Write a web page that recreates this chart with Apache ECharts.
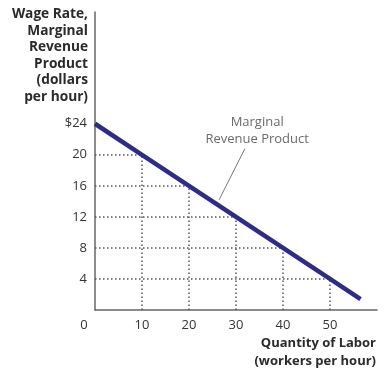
<!DOCTYPE html>
<html><head><meta charset="utf-8">
<script src="https://cdn.jsdelivr.net/npm/echarts@6/dist/echarts.min.js"></script>
<style>html,body{margin:0;padding:0;background:#fff}#c{width:392px;height:383px}</style>
</head><body><div id="c"></div>
<script>
// Data
const quantities = [0, 10, 20, 30, 40, 50, 56.5];
const mrp = [24, 20, 16, 12, 8, 4, 1.4];
const gridQuantities = [10, 20, 30, 40, 50];
const gridWages = [20, 16, 12, 8, 4];
const yTickLabels = [4, 8, 12, 16, 20, 24];
const xTickLabels = [0, 10, 20, 30, 40, 50];
const leader = [[31.9, 20.8], [26.4, 14.2]];
const labelPos = [34.5, 23.1];

const chart = echarts.init(document.getElementById('c'));
const dotted = {color: '#555', type: [1.5, 2.5], width: 1.5};
const guides = [];
gridQuantities.forEach((q, i) => {
  guides.push([{coord: [0, gridWages[i]]}, {coord: [q, gridWages[i]]}]);
  guides.push([{coord: [q, 0]}, {coord: [q, gridWages[i]]}]);
});
const font = '"Open Sans", "Noto Sans", sans-serif';
chart.setOption({
  animation: false,
  textStyle: {fontFamily: font},
  grid: {left: 95, right: 15, top: 12, bottom: 73},
  xAxis: {
    type: 'value', min: 0, max: 60, interval: 10,
    axisLine: {lineStyle: {color: '#666', width: 1.5}},
    axisTick: {show: false}, splitLine: {show: false},
    axisLabel: {
      margin: 9, color: '#333', fontSize: 13, fontFamily: font,
      formatter: v => v === 0 ? '{z|0}' : (xTickLabels.includes(v) ? String(v) : ''),
      rich: {z: {padding: [0, 22, 0, 0], fontSize: 13, color: '#333', fontFamily: font}}
    }
  },
  yAxis: {
    type: 'value', min: 0, max: 38.4, interval: 4,
    axisLine: {show: true, lineStyle: {color: '#666', width: 1.5}},
    axisTick: {show: false}, splitLine: {show: false},
    axisLabel: {
      margin: 8, color: '#333', fontSize: 13, fontFamily: font,
      formatter: v => yTickLabels.includes(v) ? (v === 24 ? '$24' : String(v)) : ''
    }
  },
  graphic: [
    {type: 'text', x: 88, y: 6, style: {
      text: 'Wage Rate,\nMarginal\nRevenue\nProduct\n(dollars\nper hour)',
      align: 'right', verticalAlign: 'top', fontSize: 13.7, fontWeight: 'bold', lineHeight: 16.5, fill: '#2a2a2a', fontFamily: font}},
    {type: 'text', x: 376, y: 334, style: {
      text: 'Quantity of Labor\n(workers per hour)',
      align: 'right', verticalAlign: 'top', fontSize: 13, fontWeight: 'bold', lineHeight: 18, fill: '#2a2a2a', fontFamily: font}}
  ],
  series: [
    {
      type: 'line', data: quantities.map((q, i) => [q, mrp[i]]),
      symbol: 'none', lineStyle: {color: '#2e2c85', width: 4.5}, z: 5,
      markLine: {silent: true, symbol: 'none', label: {show: false}, lineStyle: dotted, data: guides}
    },
    {
      type: 'line', data: leader, symbol: 'none', lineStyle: {color: '#777', width: 1}, z: 4
    },
    {
      type: 'scatter', data: [labelPos], symbolSize: 0,
      label: {show: true, position: 'inside', formatter: 'Marginal\nRevenue Product',
        fontSize: 13, lineHeight: 17, color: '#444', fontFamily: font, align: 'center'}
    }
  ]
});
</script></body></html>
